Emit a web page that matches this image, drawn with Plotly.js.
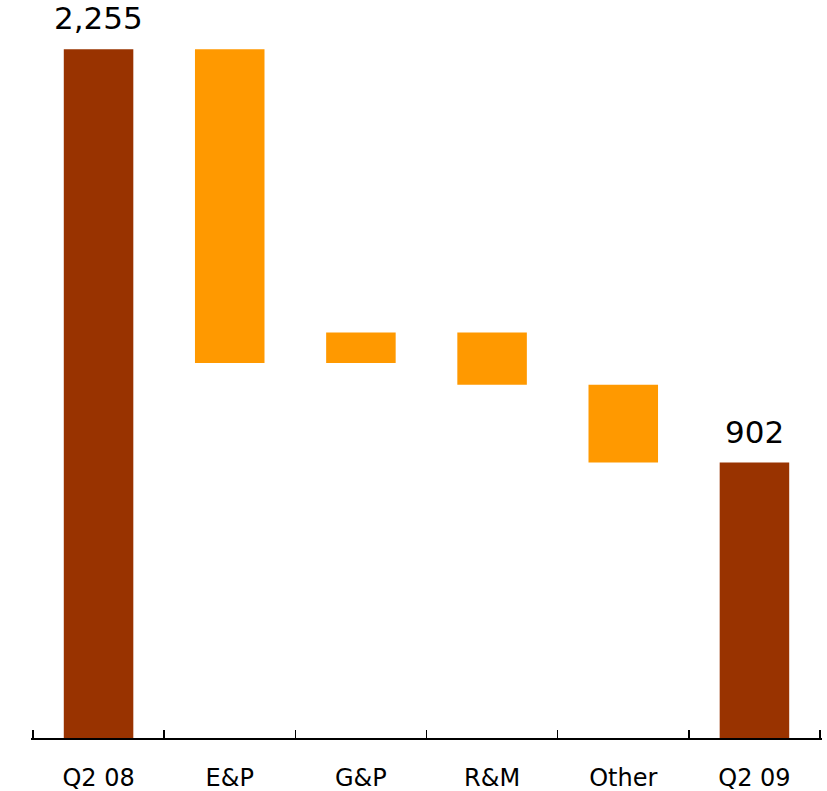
<!DOCTYPE html>
<html>
<head>
<meta charset="utf-8">
<script src="https://cdn.plot.ly/plotly-3.0.1.min.js"></script>
<style>html,body{margin:0;padding:0;background:#fff;}#chart{width:827px;height:791px;}</style>
</head>
<body>
<div id="chart"></div>
<script>
const categories = ["Q2 08", "E&P", "G&P", "R&M", "Other", "Q2 09"];
const values = [2255, -1027, 100, -171, -255, 902];
const measures = ["absolute", "relative", "relative", "relative", "relative", "total"];
const valueLabels = ["2,255", "", "", "", "", "902"];

const trace = {
  type: "waterfall",
  x: categories,
  y: values,
  measure: measures,
  increasing: {marker: {color: "#FF9900"}},
  decreasing: {marker: {color: "#FF9900"}},
  totals: {marker: {color: "#993300"}},
  connector: {visible: false},
  width: 0.53,
  hoverinfo: "x+y"
};

// boundary positions between categories (for tick marks on an overlay axis)
const boundaries = [];
for (let i = 0; i <= categories.length; i++) boundaries.push(i - 0.5);
const pad = 0.015;
const xRange = [-0.5 - pad, categories.length - 0.5 + pad];
const tickTrace = {
  type: "scatter", mode: "markers",
  x: [boundaries[0], boundaries[boundaries.length - 1]], y: [0, 0],
  xaxis: "x2", yaxis: "y",
  marker: {opacity: 0, size: 1}, hoverinfo: "skip", showlegend: false
};

// value labels above the total bars, placed at the running totals
let running = 0;
const annotations = [];
categories.forEach((c, i) => {
  if (measures[i] === "absolute") running = values[i];
  else if (measures[i] === "relative") running += values[i];
  if (valueLabels[i]) {
    annotations.push({
      x: c, y: running, xref: "x", yref: "y",
      text: valueLabels[i], showarrow: false,
      yanchor: "bottom", yshift: 11,
      font: {family: "DejaVu Sans, Verdana, sans-serif", size: 31, color: "#000"}
    });
  }
});

const layout = {
  width: 827, height: 791,
  margin: {l: 31, r: 5, t: 5, b: 53},
  paper_bgcolor: "#fff", plot_bgcolor: "#fff",
  showlegend: false,
  font: {family: "DejaVu Sans, Verdana, sans-serif", color: "#000"},
  annotations: annotations,
  xaxis: {
    type: "category",
    range: xRange,
    ticks: "",
    showline: false,
    showgrid: false, zeroline: false,
    tickfont: {size: 24, color: "#000"},
    ticklabelstandoff: 23
  },
  xaxis2: {
    type: "linear",
    overlaying: "x", anchor: "y", side: "bottom",
    range: xRange,
    tickmode: "array", tickvals: boundaries,
    ticks: "inside", ticklen: 8, tickwidth: 1.5, tickcolor: "#000",
    showline: true, linecolor: "#000", linewidth: 2,
    showticklabels: false, showgrid: false, zeroline: false
  },
  yaxis: {
    range: [0, 2400],
    visible: false, showgrid: false, zeroline: false
  }
};

Plotly.newPlot("chart", [trace, tickTrace], layout, {displayModeBar: false, staticPlot: true});
</script>
</body>
</html>
